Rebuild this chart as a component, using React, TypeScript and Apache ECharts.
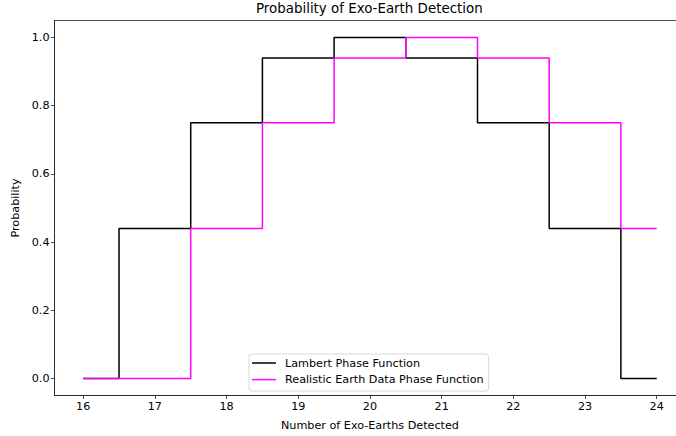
import React, { useEffect, useRef } from "react";
import * as echarts from "echarts";

const xValues = [16, 17, 18, 19, 20, 21, 22, 23, 24];
const lambert = [0, 0.44, 0.75, 0.94, 1.0, 0.94, 0.75, 0.44, 0];
const realistic = [0, 0, 0.44, 0.75, 0.94, 1.0, 0.94, 0.75, 0.44];
const xTicks = [16, 17, 18, 19, 20, 21, 22, 23, 24];
const yTicks = [0, 0.2, 0.4, 0.6, 0.8, 1.0];

const FONT = "DejaVu Sans";
const FS = 11.2;

export default function App() {
  const ref = useRef<HTMLDivElement>(null);
  useEffect(() => {
    if (!ref.current) return;
    const chart = echarts.init(ref.current, undefined, { renderer: "svg" });
    chart.setOption({
      animation: false,
      backgroundColor: "#fff",
      title: {
        text: "Probability of Exo-Earth Detection",
        left: 256,
        top: 2,
        padding: 0,
        textStyle: { fontFamily: FONT, fontSize: 13.4, fontWeight: "normal", color: "#000" },
      },
      grid: {
        left: 54.5,
        top: 20.5,
        right: 0.6,
        bottom: 40.5,
        show: true,
        borderColor: "#222",
        borderWidth: 0.8,
        backgroundColor: "transparent",
      },
      legend: {
        orient: "vertical",
        left: 249,
        top: 354,
        padding: [2.5, 5, 5, 3],
        itemWidth: 24,
        itemHeight: 1.5,
        itemGap: 3.6,
        icon: "rect",
        borderColor: "#d8d8d8",
        borderWidth: 1,
        borderRadius: 3,
        backgroundColor: "rgba(255,255,255,0.8)",
        textStyle: { fontFamily: FONT, fontSize: FS, color: "#000", lineHeight: 13, padding: [0, 0, 0, 4] },
        data: ["Lambert Phase Function", "Realistic Earth Data Phase Function"],
      },
      xAxis: {
        type: "value",
        min: 15.6,
        max: 24.4,
        name: "Number of Exo-Earths Detected",
        nameLocation: "middle",
        nameGap: 24,
        nameTextStyle: { fontFamily: FONT, fontSize: FS, color: "#000" },
        splitLine: { show: false },
        axisLine: { show: true, onZero: false, lineStyle: { color: "#222", width: 0.8 } },
        axisTick: { show: true, length: 3.5, customValues: xTicks, lineStyle: { color: "#222", width: 0.8 } },
        axisLabel: {
          customValues: xTicks,
          margin: 5,
          fontFamily: FONT,
          fontSize: FS,
          color: "#000",
          formatter: (v: number) => String(Math.round(v)),
        },
      },
      yAxis: {
        type: "value",
        min: -0.05,
        max: 1.05,
        name: "Probability",
        nameLocation: "middle",
        nameGap: 32,
        nameTextStyle: { fontFamily: FONT, fontSize: FS, color: "#000" },
        splitLine: { show: false },
        axisLine: { show: true, onZero: false, lineStyle: { color: "#222", width: 0.8 } },
        axisTick: { show: true, length: 3.5, customValues: yTicks, lineStyle: { color: "#222", width: 0.8 } },
        axisLabel: {
          customValues: yTicks,
          margin: 5,
          fontFamily: FONT,
          fontSize: FS,
          color: "#000",
          formatter: (v: number) => v.toFixed(1),
        },
      },
      series: [
        {
          name: "Lambert Phase Function",
          type: "line",
          step: "middle",
          showSymbol: false,
          color: "#000000",
          lineStyle: { color: "#000000", width: 1.5 },
          data: xValues.map((x, i) => [x, lambert[i]]),
        },
        {
          name: "Realistic Earth Data Phase Function",
          type: "line",
          step: "middle",
          showSymbol: false,
          color: "#ff00ff",
          lineStyle: { color: "#ff00ff", width: 1.5 },
          data: xValues.map((x, i) => [x, realistic[i]]),
        },
      ],
    });
    return () => chart.dispose();
  }, []);
  return (
    <div style={{ position: "absolute", left: 0, top: 0, width: 676, height: 436, overflow: "hidden", background: "#fff" }}>
      <div ref={ref} style={{ width: 686, height: 436 }} />
    </div>
  );
}
